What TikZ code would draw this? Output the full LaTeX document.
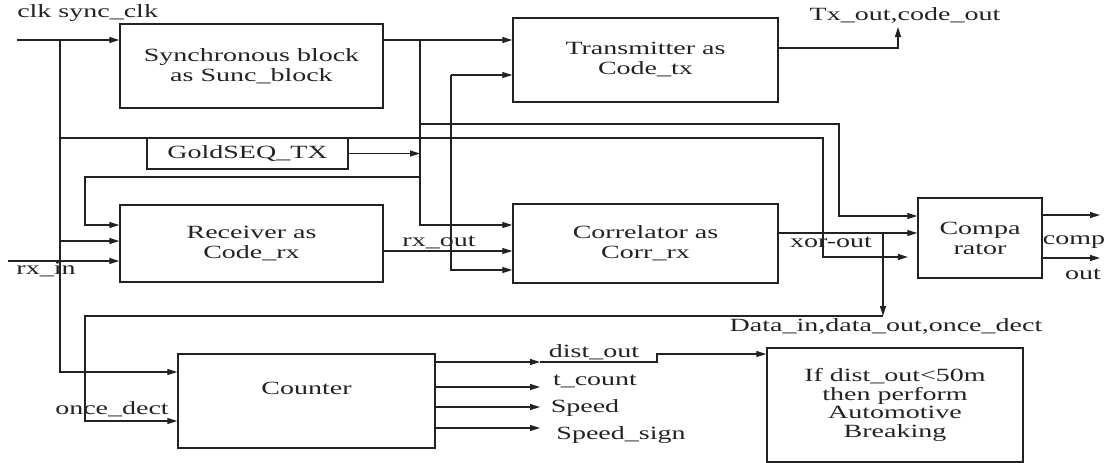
\documentclass[tikz,border=0pt]{standalone}
\usepackage{fontspec}
\setmainfont{Liberation Serif}[FakeStretch=1.5]
\usetikzlibrary{arrows.meta,calc}
\definecolor{ink}{HTML}{222222}
\begin{document}
\begin{tikzpicture}[x=0.75pt,y=-0.75pt,
  every node/.style={text=ink,font=\fontsize{14}{15}\selectfont},
  box/.style={draw=ink,line width=1.1pt,align=center,inner sep=0pt},
  wire/.style={draw=ink,line width=1pt},
  arr/.style={wire,-{Triangle[length=7.5pt,width=4.5pt]}},
  lbl/.style={inner sep=0pt}]
\useasboundingbox (0,0) rectangle (1111,462);
% boxes
\node[box,minimum width=197.25pt,minimum height=63pt] (sync) at (251.5,66) {Synchronous block\\as Sunc\_block};
\node[box,minimum width=198.75pt,minimum height=63pt] (tx) at (645.5,60) {Transmitter as\\Code\_tx};
\node[box,minimum width=150.75pt,minimum height=23.25pt] (gold) at (247.5,153.5) {GoldSEQ\_TX};
\node[box,minimum width=197.25pt,minimum height=57.75pt] (rx) at (251.5,243.5) {Receiver as\\Code\_rx};
\node[box,minimum width=198.75pt,minimum height=59.25pt] (corr) at (645.5,243.5) {Correlator as\\Corr\_rx};
\node[box,minimum width=93pt,minimum height=60pt] (comp) at (980,238) {Compa\\rator};
\node[box,minimum width=192.75pt,minimum height=70.5pt] (counter) at (306.5,401) {};
\node[text=ink] (countertext) at (306.5,388) {Counter};
\node[box,minimum width=192pt,minimum height=85.5pt,font=\fontsize{14}{14}\selectfont] (brake) at (895,405) {If dist\_out<50m\\then perform\\Automotive\\Breaking};
% coordinates
\coordinate (clkin) at (17,40);
\coordinate (c1) at (60,40);
\coordinate (c2) at (60,372);
\coordinate (c3) at (60,138);
\coordinate (c4) at (823,138);
\coordinate (c5) at (823,257);
\coordinate (c6) at (60,241);
\coordinate (rxin) at (8,261);
\coordinate (v1) at (420,40);
\coordinate (v2) at (420,225);
\coordinate (d1) at (420,124);
\coordinate (d2) at (839,124);
\coordinate (d3) at (839,216);
\coordinate (e1) at (420,177);
\coordinate (e2) at (85,177);
\coordinate (e3) at (85,225);
\coordinate (f1) at (451,75);
\coordinate (f2) at (451,270);
\coordinate (g1) at (383,251);
\coordinate (h1) at (778,233);
\coordinate (h2) at (883,233);
\coordinate (h3) at (883,316);
\coordinate (i1) at (85,316);
\coordinate (i2) at (85,421);
\coordinate (k1) at (778,48);
\coordinate (k2) at (898,48);
\coordinate (k3) at (898,27);
\coordinate (m1) at (1100,215);
\coordinate (m2) at (1100,258);
\coordinate (n1) at (540,362);
\coordinate (n2) at (540,387);
\coordinate (n3) at (540,407);
\coordinate (n4) at (540,428);
\coordinate (p1) at (657,362);
\coordinate (p2) at (657,354);
% connectors
\draw[arr] (clkin) -- (clkin -| sync.west);
\draw[arr] (c1) -- (c2) -- (c2 -| counter.west);
\draw[arr,shorten >=7pt] (c3) -- (c4) -- (c5) -- (c5 -| comp.west);
\draw[arr] (c6) -- (c6 -| rx.west);
\draw[arr] (rxin) -- (rxin -| rx.west);
\draw[arr] (sync.east |- clkin) -- (clkin -| tx.west);
\draw[arr] (v1) -- (v2) -- (v2 -| corr.west);
\draw[arr] (d1) -- (d2) -- (d3) -- (d3 -| comp.west);
\draw[arr] (gold.east) -- (gold.east -| v1);
\draw[arr] (e1) -- (e2) -- (e3) -- (e3 -| rx.west);
\draw[arr] (f1) -- (f1 -| tx.west);
\draw[arr] (f1) -- (f2) -- (f2 -| corr.west);
\draw[arr] (rx.east |- g1) -- (g1 -| corr.west);
\draw[arr] (corr.east |- h1) -- (h1 -| comp.west);
\draw[arr] (h2) -- (h3);
\draw[arr] (h3) -- (i1) -- (i2) -- (i2 -| counter.west);
\draw[arr] (tx.east |- k1) -- (k2) -- (k3);
\draw[arr] (comp.east |- m1) -- (m1);
\draw[arr] (comp.east |- m2) -- (m2);
\draw[arr] (counter.east |- n1) -- (n1);
\draw[arr] (counter.east |- n2) -- (n2);
\draw[arr] (counter.east |- n3) -- (n3);
\draw[arr] (counter.east |- n4) -- (n4);
\draw[arr] (n1) -- (p1) -- (p2) -- (p2 -| brake.west);
% labels
\node[lbl,anchor=west] (lclk) at (17,13) {clk sync\_clk};
\node[lbl] (ltx) at (905,15) {Tx\_out,code\_out};
\node[lbl] (lrxout) at (439,242) {rx\_out};
\node[lbl] (lrxin) at (46,270) {rx\_in};
\node[lbl] (lxor) at (831,242) {xor-out};
\node[lbl] (lcomp) at (1074,242) {comp};
\node[lbl] (lout) at (1083,274) {out};
\node[lbl] (ldata) at (886,326) {Data\_in,data\_out,once\_dect};
\node[lbl] (lonce) at (112,409) {once\_dect};
\node[lbl] (ldist) at (594,352) {dist\_out};
\node[lbl] (ltc) at (595,381) {t\_count};
\node[lbl] (lspeed) at (585,408) {Speed};
\node[lbl] (lsign) at (621,435) {Speed\_sign};
\end{tikzpicture}
\end{document}
